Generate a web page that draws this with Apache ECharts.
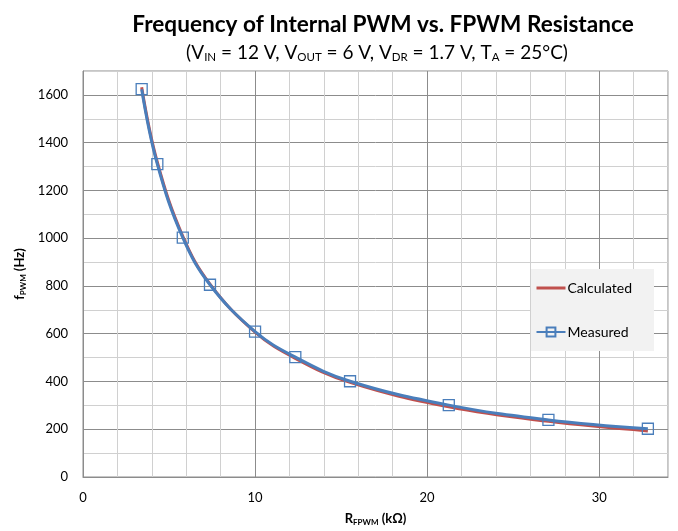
<!DOCTYPE html>
<html><head><meta charset="utf-8">
<script src="https://cdn.jsdelivr.net/npm/echarts@6/dist/echarts.min.js"></script>
<style>html,body{margin:0;padding:0;background:#fff}#c{width:678px;height:531px}</style>
</head><body><div id="c"></div>
<script>
const resistanceKOhm = [3.41, 4.32, 5.80, 7.38, 10.0, 12.34, 15.52, 21.26, 27.05, 32.83];
const measuredHz = [1624, 1310, 1002, 805, 609, 502, 401, 301, 239, 202];
const calculatedHz = [1632, 1318, 1008, 808, 607, 497, 396, 294, 233, 193];
const xTickLabels = [0, 10, 20, 30];
const yTickLabels = [0, 200, 400, 600, 800, 1000, 1200, 1400, 1600];

const FONT = 'Lato';
const chart = echarts.init(document.getElementById('c'), null, {renderer: 'canvas'});
const toPairs = (xs, ys) => xs.map((x, i) => [x, ys[i]]);
const MAJOR = '#8c8c8c', MINOR = '#d0d0d0';
const RED = '#c0504d', BLUE = '#4a7ebb';

chart.setOption({
  backgroundColor: '#fff',
  animation: false,
  textStyle: {fontFamily: FONT},
  title: [
    {text: 'Frequency of Internal PWM vs. FPWM Resistance', left: 378, top: 8, textAlign: 'center',
     textStyle: {fontFamily: FONT, fontWeight: 'bold', fontSize: 22.6, color: '#000'}},
    {text: '(V{s|IN} = 12 V, V{s|OUT} = 6 V, V{s|DR} = 1.7 V, T{s|A} = 25°C)', left: 372, top: 35, textAlign: 'center',
     textStyle: {fontFamily: FONT, fontWeight: 'normal', fontSize: 19, color: '#000', lineHeight: 25,
       rich: {s: {fontFamily: FONT, fontSize: 11.5, color: '#000', padding: [10, 0, 0, 0], lineHeight: 25}}}}
  ],
  grid: {left: 83, right: 10, top: 71, bottom: 50, show: true, borderColor: MAJOR, borderWidth: 1, backgroundColor: 'transparent'},
  legend: {
    orient: 'vertical', left: 531, top: 269,
    backgroundColor: '#f2f2f2', padding: [12, 22, 12, 4], itemGap: 30,
    itemWidth: 29, itemHeight: 11,
    textStyle: {fontFamily: FONT, fontSize: 14, color: '#000', padding: [0, 0, 0, -3]},
    data: [
      {name: 'Calculated', itemStyle: {color: 'rgba(0,0,0,0)', borderColor: 'rgba(0,0,0,0)', borderWidth: 0},
       lineStyle: {color: RED, width: 3}},
      {name: 'Measured'}
    ]
  },
  xAxis: {
    type: 'value', min: 0, max: 34, interval: 2,
    name: 'R{s|FPWM} (kΩ)', nameLocation: 'middle', nameGap: 34,
    nameTextStyle: {fontFamily: FONT, fontWeight: 'bold', fontSize: 13, color: '#000',
      rich: {s: {fontFamily: FONT, fontWeight: 'bold', fontSize: 8, color: '#000', padding: [7, 0, 0, 0]}}},
    axisLine: {show: true, lineStyle: {color: MAJOR}},
    axisTick: {show: false},
    axisLabel: {fontFamily: FONT, fontSize: 13, color: '#000', margin: 14, showMaxLabel: false,
      formatter: v => xTickLabels.includes(v) ? String(v) : ''},
    splitLine: {show: true, lineStyle: {color: [MAJOR, MINOR, MINOR, MINOR, MINOR], width: 1}}
  },
  yAxis: {
    type: 'value', min: 0, max: 1700, interval: 100,
    name: 'f{s|PWM} (Hz)', nameLocation: 'middle', nameGap: 56,
    nameTextStyle: {fontFamily: FONT, fontWeight: 'bold', fontSize: 13, color: '#000',
      rich: {s: {fontFamily: FONT, fontWeight: 'bold', fontSize: 8, color: '#000', padding: [7, 0, 0, 0]}}},
    axisLine: {show: true, lineStyle: {color: MAJOR}},
    axisTick: {show: false},
    axisLabel: {fontFamily: FONT, fontSize: 13, color: '#000', margin: 15, showMaxLabel: false,
      formatter: v => yTickLabels.includes(v) ? String(v) : ''},
    splitLine: {show: true, lineStyle: {color: [MAJOR, MINOR], width: 1}}
  },
  series: [
    {name: 'Calculated', type: 'line', smooth: 0.4, symbol: 'none',
     data: toPairs(resistanceKOhm, calculatedHz),
     lineStyle: {color: RED, width: 3}, itemStyle: {color: RED}, z: 2},
    {name: 'Measured', type: 'line', smooth: 0.4, symbol: 'rect', symbolSize: 11, showSymbol: true,
     data: toPairs(resistanceKOhm, measuredHz),
     lineStyle: {color: BLUE, width: 3},
     itemStyle: {color: 'rgba(255,255,255,0)', borderColor: BLUE, borderWidth: 1.3}, z: 3}
  ]
});
</script></body></html>
